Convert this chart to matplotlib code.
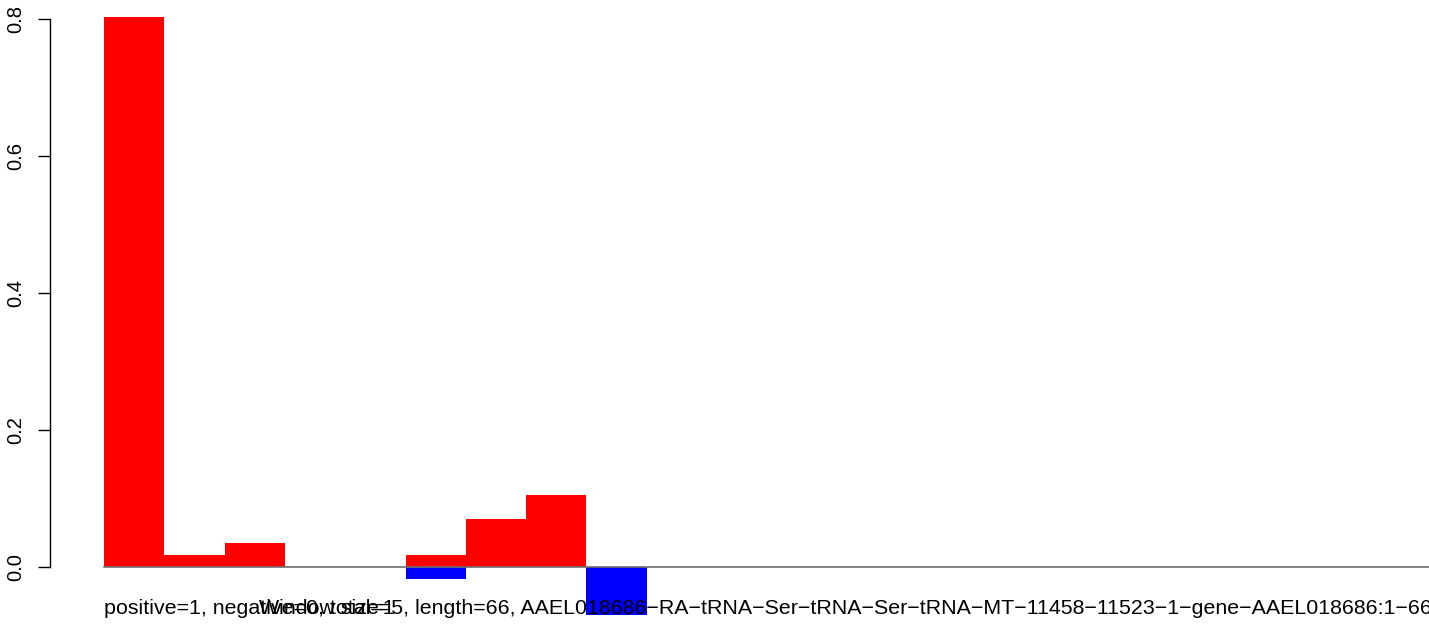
import numpy as np
import matplotlib
matplotlib.use("Agg")
import matplotlib.pyplot as plt

plt.rcParams['font.family'] = ['Liberation Sans', 'DejaVu Sans']

# window scores, one bar per window
n_windows = 22
pos_vals = [0.803, 0.0175, 0.035, 0, 0, 0.0175, 0.07, 0.105, 0, 0, 0,
            0, 0, 0, 0, 0, 0, 0, 0, 0, 0, 0]
neg_vals = [0, 0, 0, 0, 0, -0.0175, 0, 0, -0.07, 0, 0,
            0, 0, 0, 0, 0, 0, 0, 0, 0, 0, 0]
y_ticks = [0.0, 0.2, 0.4, 0.6, 0.8]
left_label = "positive=1, negative=0, total=1"
main_label = ("Window size=5, length=66, AAEL018686\u2212RA\u2212tRNA\u2212Ser\u2212tRNA\u2212Ser"
              "\u2212tRNA\u2212MT\u221211458\u221211523\u22121\u2212gene\u2212AAEL018686:1\u221266")

W, H = 1429, 626
fig = plt.figure(figsize=(W / 100, H / 100), dpi=100)
ax = fig.add_axes([0, 0, 1, 1])

# pixel layout of the original: bar 0 starts at x=104, ~60.3 px per bar,
# y=0 at 567 px from top, 685 px per unit
px_bar = 60.3
x0_px = 104
y0_px = H - 567
px_unit = 685.0
ax.set_xlim(-x0_px / px_bar, (W - x0_px) / px_bar)
ax.set_ylim(-y0_px / px_unit, (H - y0_px) / px_unit)

x = np.arange(n_windows)
ax.bar(x, pos_vals, width=1.0, align='edge', color='#ff0000', linewidth=0)
ax.bar(x, neg_vals, width=1.0, align='edge', color='#0000ff', linewidth=0)
ax.plot([0, n_windows + 5], [0, 0], color='#6e6e6e', lw=1.2, zorder=3)

for s in ['top', 'right', 'bottom']:
    ax.spines[s].set_visible(False)
ax.spines['left'].set_position(('data', (50 - x0_px) / px_bar))
ax.spines['left'].set_bounds(0, 0.8)
ax.spines['left'].set_linewidth(1.0)
ax.set_yticks(y_ticks)
ax.set_yticklabels([f"{t:.1f}" for t in y_ticks], rotation=90, va='center',
                   fontsize=14.5)
ax.tick_params(axis='y', length=8.6, width=1.0, pad=9)
ax.set_xticks([])
ax.patch.set_visible(False)

fig.text(x0_px / W, (H - 614) / H, left_label, fontsize=15.4, va='baseline', ha='left')
fig.text(259 / W, (H - 614) / H, main_label, fontsize=15.4, va='baseline', ha='left')

fig.savefig("out.png", dpi=100)
